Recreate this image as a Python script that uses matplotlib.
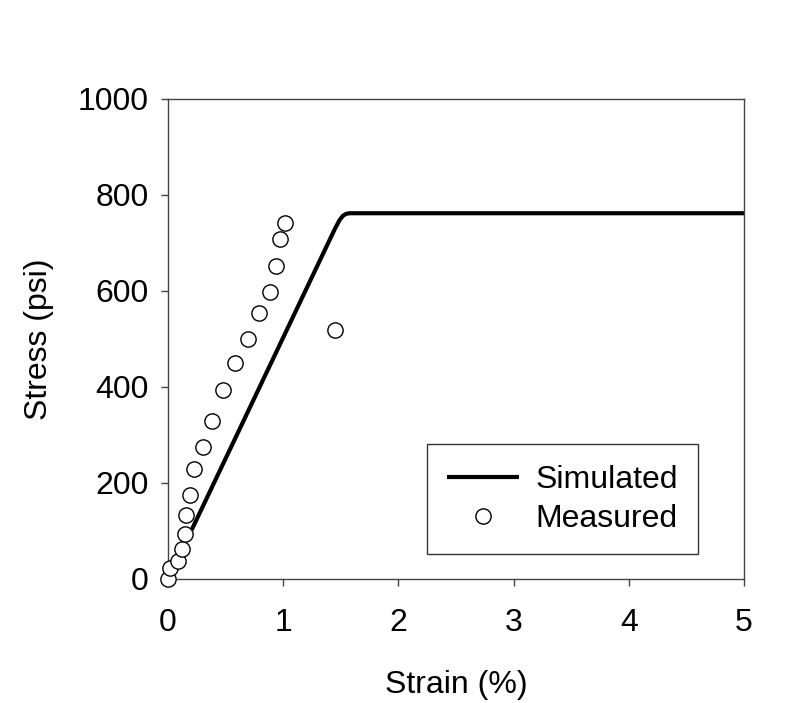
import matplotlib.pyplot as plt

plt.rcParams["font.family"] = ["Liberation Sans", "DejaVu Sans"]

# measured points (strain %, stress psi)
measured_strain = [0.0, 0.02, 0.087, 0.12, 0.145, 0.156, 0.19, 0.225, 0.30,
                   0.38, 0.48, 0.585, 0.695, 0.79, 0.885, 0.94, 0.97, 1.02, 1.45]
measured_stress = [0, 22, 38, 62, 93, 133, 174, 229, 275,
                   329, 393, 451, 499, 555, 598, 653, 708, 741, 518]

# simulated curve
sim_strain = [0.205, 1.0, 1.45, 1.49, 1.52, 1.55, 1.58, 5.0]
sim_stress = [102, 503, 730, 748, 757, 761, 762, 762]

FS = 23

fig = plt.figure(figsize=(8.06, 7.03), dpi=100)
ax = fig.add_axes([0.2084, 0.1764, 0.7147, 0.6828])

ax.plot(sim_strain, sim_stress, color="black", linewidth=3.0,
        solid_capstyle="butt", label="Simulated", zorder=2)
ax.plot(measured_strain, measured_stress, linestyle="none", marker="o",
        markersize=11, markerfacecolor="white", markeredgecolor="black",
        markeredgewidth=1.0, label="Measured", zorder=3, clip_on=False)

ax.set_xlim(0, 5)
ax.set_ylim(0, 1000)
ax.set_xticks([0, 1, 2, 3, 4, 5])
ax.set_yticks([0, 200, 400, 600, 800, 1000])

for s in ax.spines.values():
    s.set_color("#444444")
    s.set_linewidth(1.0)

ax.tick_params(axis="both", direction="out", length=5, width=1.0,
               color="#444444", labelsize=FS, pad=9)
ax.tick_params(axis="x", pad=16)

ax.set_xlabel("Strain (%)", fontsize=FS, labelpad=23)
ax.set_ylabel("Stress (psi)", fontsize=FS, labelpad=17)

leg = ax.legend(loc="upper right", bbox_to_anchor=(0.866, 0.368),
                bbox_transform=fig.transFigure, borderaxespad=0,
                fontsize=FS, frameon=True, fancybox=False,
                handlelength=2.25, handletextpad=0.5, labelspacing=0.28,
                borderpad=0.64)
leg.get_frame().set_edgecolor("#333333")
leg.get_frame().set_linewidth(1.0)
leg.get_frame().set_alpha(1)

fig.savefig("out.png", dpi=100)
